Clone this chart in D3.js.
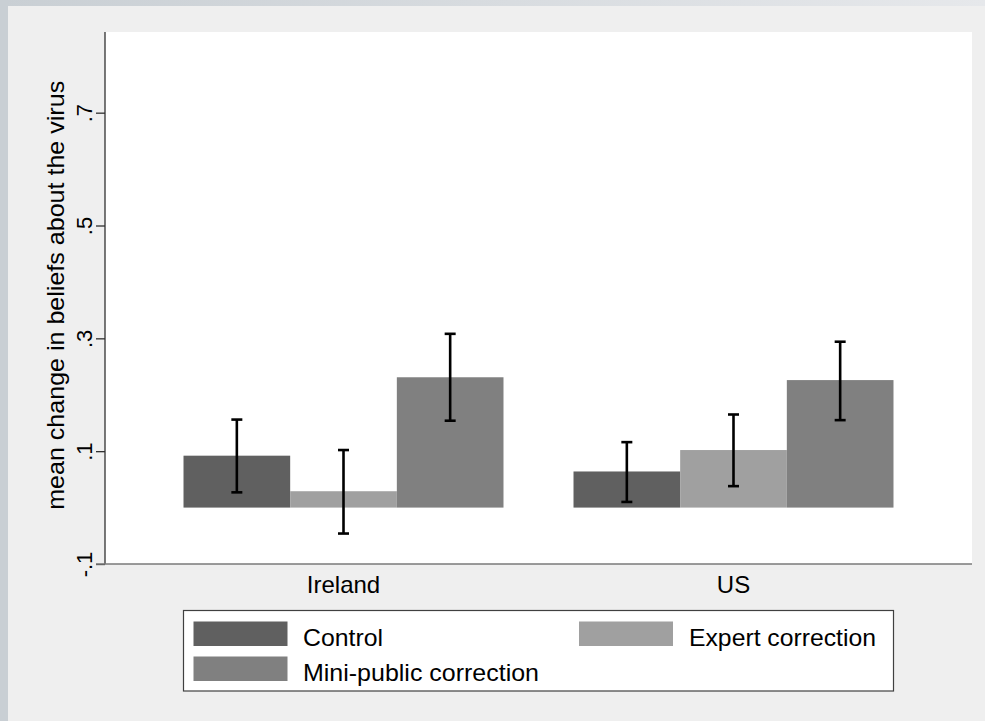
<!DOCTYPE html>
<html>
<head>
<meta charset="utf-8">
<script src="https://cdn.jsdelivr.net/npm/d3@7"></script>
<style>
  html, body { margin: 0; padding: 0; background: #efefef; }
  svg { display: block; }
  text { font-family: "Liberation Sans", Arial, Helvetica, sans-serif; fill: #000; }
</style>
</head>
<body>
<svg id="chart" width="985" height="721"></svg>
<script>
// ---- data ----
const categories = ["Ireland", "US"];
const seriesNames = ["Control", "Expert correction", "Mini-public correction"];
const seriesColors = ["#606060", "#a0a0a0", "#808080"];

const controlMean  = [0.092, 0.064];
const controlLow   = [0.027, 0.010];
const controlHigh  = [0.156, 0.116];

const expertMean   = [0.029, 0.102];
const expertLow    = [-0.046, 0.038];
const expertHigh   = [0.102, 0.165];

const miniMean     = [0.231, 0.226];
const miniLow      = [0.154, 0.155];
const miniHigh     = [0.308, 0.294];

const yTicks = [-0.1, 0.1, 0.3, 0.5, 0.7];
const yTickLabels = ["-.1", ".1", ".3", ".5", ".7"];
const yTitle = "mean change in beliefs about the virus";

// ---- assemble ----
const means = [controlMean, expertMean, miniMean];
const lows  = [controlLow, expertLow, miniLow];
const highs = [controlHigh, expertHigh, miniHigh];
const rows = [];
categories.forEach((c, ci) => {
  seriesNames.forEach((s, si) => {
    rows.push({cat: c, series: s, si, mean: means[si][ci], lo: lows[si][ci], hi: highs[si][ci]});
  });
});

const svg = d3.select("#chart");
const W = 985, H = 721;

// background frame
const defs = svg.append("defs");
const grad = defs.append("linearGradient").attr("id", "topg").attr("x1", 0).attr("x2", 1).attr("y1", 0).attr("y2", 0);
grad.append("stop").attr("offset", "0%").attr("stop-color", "#c9cfd4");
grad.append("stop").attr("offset", "100%").attr("stop-color", "#e6e8eb");
svg.append("rect").attr("x", 0).attr("y", 0).attr("width", W).attr("height", H).attr("fill", "#efefef");
svg.append("rect").attr("x", 0).attr("y", 0).attr("width", W).attr("height", 6).attr("fill", "url(#topg)");
svg.append("rect").attr("x", 0).attr("y", 0).attr("width", 8).attr("height", H).attr("fill", "#c9cfd4");

// plot region
const plot = {left: 105, right: 972, top: 32, bottom: 564};
svg.append("rect")
  .attr("x", plot.left).attr("y", plot.top)
  .attr("width", plot.right - plot.left).attr("height", plot.bottom - plot.top)
  .attr("fill", "#ffffff");

const y = d3.scaleLinear().domain([-0.1, 0.843]).range([plot.bottom, plot.top]);
const x0 = d3.scaleBand().domain(categories).range([plot.left, plot.right])
  .paddingInner(0.1795).paddingOuter(0.2013);
const x1 = d3.scaleBand().domain(seriesNames).range([0, x0.bandwidth()]).padding(0);
const color = d3.scaleOrdinal().domain(seriesNames).range(seriesColors);

// bars
svg.append("g").selectAll("rect").data(rows).join("rect")
  .attr("x", d => x0(d.cat) + x1(d.series))
  .attr("width", x1.bandwidth())
  .attr("y", d => Math.min(y(d.mean), y(0)))
  .attr("height", d => Math.abs(y(0) - y(d.mean)))
  .attr("fill", d => color(d.series));

// error bars
const capHalf = 5.5;
const eg = svg.append("g").attr("stroke", "#000").attr("stroke-width", 2.6).attr("fill", "none");
rows.forEach(d => {
  const cx = x0(d.cat) + x1(d.series) + x1.bandwidth() / 2;
  eg.append("line").attr("x1", cx).attr("x2", cx).attr("y1", y(d.hi)).attr("y2", y(d.lo));
  eg.append("line").attr("x1", cx - capHalf).attr("x2", cx + capHalf).attr("y1", y(d.hi)).attr("y2", y(d.hi));
  eg.append("line").attr("x1", cx - capHalf).attr("x2", cx + capHalf).attr("y1", y(d.lo)).attr("y2", y(d.lo));
});

// y axis
const yAxis = d3.axisLeft(y).tickValues(yTicks).tickFormat((d, i) => yTickLabels[i]).tickSize(9).tickPadding(0);
const yg = svg.append("g").attr("transform", `translate(${plot.left},0)`).call(yAxis);
yg.select(".domain").attr("stroke", "#303030").attr("stroke-width", 1.3)
  .attr("d", `M0,${plot.top}V${plot.bottom}`);
yg.selectAll(".tick line").attr("stroke", "#303030").attr("stroke-width", 1.3);
yg.selectAll(".tick text")
  .attr("x", null).attr("dy", null)
  .attr("transform", "translate(-13.5,0) rotate(-90)")
  .attr("text-anchor", "middle")
  .attr("font-size", 22)
  .style("font-family", "'Liberation Sans', Arial, sans-serif")
  .attr("fill", "#000");

// x axis line
svg.append("line")
  .attr("x1", 96).attr("x2", plot.right)
  .attr("y1", plot.bottom).attr("y2", plot.bottom)
  .attr("stroke", "#7a7a7a").attr("stroke-width", 1.5);

// category labels
svg.append("g").selectAll("text").data(categories).join("text")
  .attr("x", d => x0(d) + x0.bandwidth() / 2)
  .attr("y", 593)
  .attr("text-anchor", "middle")
  .attr("font-size", 24)
  .text(d => d);

// y title
svg.append("text")
  .attr("transform", `translate(63.5, ${(80.7 + 510) / 2}) rotate(-90)`)
  .attr("text-anchor", "middle")
  .attr("font-size", 24.5)
  .attr("textLength", 429)
  .attr("lengthAdjust", "spacingAndGlyphs")
  .text(yTitle);

// legend
const lg = svg.append("g");
lg.append("rect").attr("x", 183.5).attr("y", 610.5).attr("width", 710).attr("height", 80.5)
  .attr("fill", "#ffffff").attr("stroke", "#404040").attr("stroke-width", 1.2);
const legendPos = [
  {sx: 193.5, sy: 621.5, tx: 303, ty: 646, tl: 80},
  {sx: 579, sy: 621.5, tx: 689, ty: 646, tl: 187},
  {sx: 193.5, sy: 656.5, tx: 303, ty: 681, tl: 236}
];
seriesNames.forEach((s, i) => {
  const p = legendPos[i];
  lg.append("rect").attr("x", p.sx).attr("y", p.sy).attr("width", 94).attr("height", 24.5)
    .attr("fill", color(s));
  lg.append("text").attr("x", p.tx).attr("y", p.ty).attr("font-size", 24.5)
    .attr("textLength", p.tl).attr("lengthAdjust", "spacingAndGlyphs")
    .text(s);
});
</script>
</body>
</html>
